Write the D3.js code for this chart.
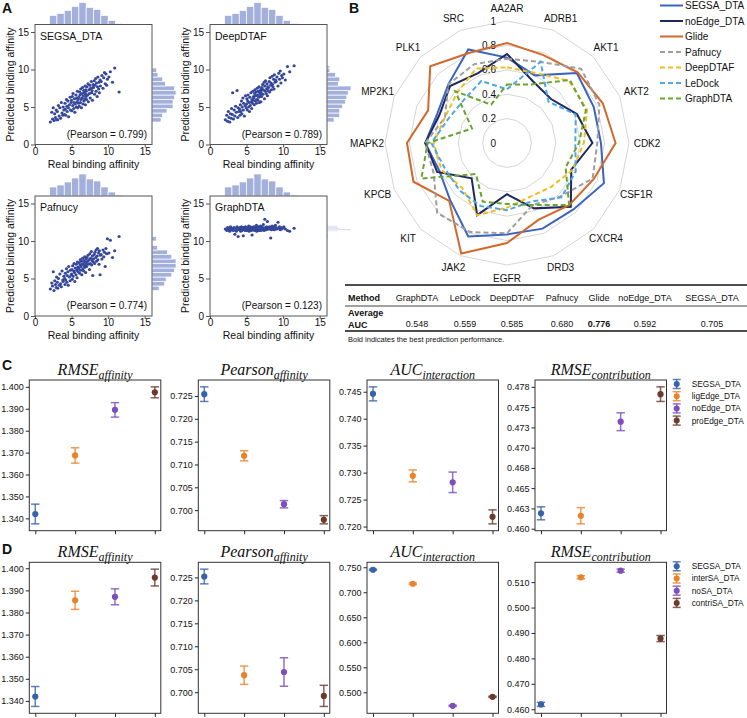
<!DOCTYPE html>
<html>
<head>
<meta charset="utf-8">
<script src="https://cdn.jsdelivr.net/npm/d3@7"></script>
<style>
body { margin: 0; background: #fff; }
svg text { font-family: "Liberation Sans", Arial, sans-serif; fill: #111; }
</style>
</head>
<body>
<svg id="fig" width="747" height="718"></svg>
<script>
// ---------- Panel A data ----------
var realAffinity = [
  2.1,2.3,2.4,2.5,2.6,2.7,2.8,2.9,2.95,
  3.05,3.1,3.2,3.3,3.4,3.5,3.6,3.7,3.8,3.85,3.95,
  4.05,4.1,4.15,4.2,4.3,4.35,4.4,4.5,4.55,4.6,4.7,4.8,4.85,4.95,
  5.0,5.05,5.1,5.15,5.2,5.3,5.35,5.4,5.45,5.5,5.6,5.65,5.7,5.75,5.8,5.85,5.9,5.95,
  6.0,6.05,6.1,6.15,6.2,6.25,6.3,6.35,6.4,6.45,6.5,6.55,6.6,6.65,6.7,6.75,6.8,6.85,6.9,6.92,6.95,6.98,
  7.0,7.05,7.1,7.2,7.25,7.3,7.4,7.45,7.5,7.55,7.6,7.7,7.75,7.8,7.85,7.9,7.95,
  8.0,8.1,8.15,8.2,8.3,8.35,8.4,8.5,8.55,8.6,8.7,8.75,8.8,8.9,8.95,
  9.05,9.15,9.3,9.4,9.5,9.6,9.7,9.8,9.9,
  10.1,10.3,10.6,10.9,
  11.5];
var predSEGSA = [
  3.0,4.3,3.4,4.9,3.2,4.1,3.6,4.6,3.3,
  4.4,3.3,5.2,3.8,4.9,3.5,5.6,4.2,3.9,5.0,4.6,
  4.0,5.5,4.7,3.9,6.0,5.1,4.4,5.8,4.9,3.7,5.3,6.3,4.6,5.6,
  5.9,4.5,6.4,5.2,6.8,4.8,5.6,6.1,4.3,5.4,6.6,5.0,6.2,5.7,7.1,4.9,6.0,5.5,
  6.3,5.1,7.0,6.6,5.6,7.4,6.0,4.9,6.8,6.2,7.6,5.4,6.5,7.2,5.8,6.9,6.1,7.8,5.3,6.7,7.3,6.4,
  7.1,6.0,7.7,6.6,8.1,5.7,7.3,6.8,7.9,6.2,7.5,8.4,6.9,7.2,5.9,7.6,8.0,
  7.6,8.5,6.7,7.9,8.8,7.1,8.2,6.4,7.7,9.0,7.4,8.3,6.9,8.6,7.8,
  8.4,9.2,7.5,8.9,9.6,8.1,9.4,7.9,8.7,
  9.0,9.7,8.3,10.2,
  7.0];
var predDeepDTAF = [
  3.3,3.9,3.1,4.4,3.6,3.0,4.1,3.5,4.8,
  4.0,6.9,3.4,4.6,3.8,5.1,4.3,7.2,3.6,4.9,4.4,
  4.7,3.9,5.3,4.4,5.8,4.1,5.0,6.2,4.6,5.5,3.8,5.2,6.5,4.9,
  5.4,6.1,4.6,5.8,6.6,5.0,5.6,4.4,6.3,5.2,6.9,5.7,4.8,6.0,5.5,7.1,5.9,6.4,
  6.2,5.3,6.8,7.3,5.8,6.5,7.0,5.5,6.0,7.5,6.6,5.9,7.1,6.3,7.7,5.6,6.9,6.4,7.2,6.7,5.7,7.4,
  7.0,6.4,7.6,8.0,6.7,7.3,8.3,6.1,7.8,7.1,8.5,6.8,7.4,8.1,6.5,7.7,7.2,
  7.6,8.4,7.0,8.9,7.9,8.2,7.3,9.1,8.0,7.7,8.7,7.4,9.3,8.3,8.6,
  8.4,9.0,7.8,9.5,8.7,9.8,8.2,9.2,8.9,
  9.4,8.6,10.4,9.7,
  10.5];
var predPafnucy = [
  3.6,4.4,4.0,5.9,3.4,4.7,4.2,3.8,5.2,
  4.5,3.7,5.0,4.1,5.6,4.3,3.9,6.0,4.8,4.6,5.3,
  5.0,4.2,5.7,4.8,6.3,4.5,5.4,5.9,4.1,6.6,5.2,4.7,6.1,5.5,
  5.6,6.2,4.9,6.7,5.3,6.0,7.0,5.8,4.6,6.4,5.5,6.9,6.1,5.1,7.2,6.5,5.9,6.3,
  6.4,7.1,5.7,6.8,7.5,6.1,6.6,7.3,5.5,6.9,7.7,6.3,7.0,6.0,7.4,6.7,7.9,6.5,7.2,5.8,6.8,7.6,
  7.1,6.6,7.8,7.3,8.1,6.9,7.5,6.2,8.3,7.0,7.7,8.6,6.8,7.4,8.0,5.4,7.2,
  7.6,8.2,7.0,8.5,7.8,8.8,7.3,8.0,9.0,7.5,8.4,6.9,8.7,5.5,8.1,
  8.2,7.6,8.8,7.9,8.5,6.6,9.0,8.3,10.3,
  8.4,10.1,7.8,8.7,
  10.6];
var predGraphDTA = [
  11.6,11.4,11.8,11.5,11.7,11.3,11.9,11.5,11.6,
  11.7,11.5,11.4,11.8,10.9,11.6,11.3,11.9,11.5,10.6,11.7,
  11.5,11.8,11.6,11.3,11.9,11.4,11.7,11.5,10.7,11.8,11.6,11.4,11.9,11.6,
  11.7,11.4,11.8,11.5,11.6,12.0,11.3,11.7,11.5,11.9,11.6,11.4,11.8,10.8,11.6,11.7,11.5,11.9,
  11.6,11.8,11.4,11.7,11.9,11.5,11.6,12.1,11.3,11.7,11.8,11.5,11.6,11.9,11.4,11.7,11.8,11.5,12.0,11.6,11.7,11.4,
  11.7,11.9,11.5,11.8,11.6,12.2,11.4,11.7,12.9,11.6,11.8,11.5,11.9,11.7,12.6,11.6,11.8,
  11.8,11.6,11.9,11.7,10.4,11.8,11.5,12.0,11.7,11.6,11.9,11.8,11.5,11.7,12.1,
  11.8,11.6,12.5,11.7,11.9,11.5,11.8,11.6,11.7,
  11.9,11.6,11.4,11.3,
  11.7];
var scatterNames = ["SEGSA_DTA", "DeepDTAF", "Pafnucy", "GraphDTA"];
var pearsonVals = ["0.799", "0.789", "0.774", "0.123"];
var axisTicksA = [0, 5, 10, 15];

// ---------- Panel B data ----------
var targets = ["AA2AR","ADRB1","AKT1","AKT2","CDK2","CSF1R","CXCR4","DRD3","EGFR","JAK2","KIT","KPCB","MAPK2","MP2K1","PLK1","SRC"];
var aucSEGSA    = [0.70,0.60,0.81,0.77,0.77,0.86,0.77,0.76,0.75,0.83,0.66,0.60,0.67,0.62,0.68,0.83];
var aucNoEdge   = [0.73,0.55,0.51,0.62,0.70,0.57,0.74,0.58,0.42,0.64,0.41,0.62,0.67,0.60,0.66,0.62];
var aucGlide    = [0.82,0.78,0.82,0.85,0.89,0.77,0.72,0.68,0.82,0.98,0.67,0.83,0.82,0.70,0.89,0.80];
var aucPafnucy  = [0.69,0.72,0.86,0.82,0.74,0.76,0.62,0.55,0.74,0.79,0.81,0.65,0.67,0.55,0.68,0.70];
var aucDeepDTAF = [0.62,0.62,0.72,0.71,0.63,0.58,0.51,0.48,0.53,0.64,0.52,0.58,0.60,0.55,0.58,0.66];
var aucLeDock   = [0.44,0.72,0.48,0.61,0.56,0.61,0.63,0.52,0.55,0.56,0.55,0.55,0.62,0.52,0.50,0.55];
var aucGraphDTA = [0.48,0.52,0.73,0.70,0.59,0.52,0.72,0.55,0.50,0.52,0.36,0.76,0.65,0.31,0.60,0.34];
var radarMethods = ["SEGSA_DTA","noEdge_DTA","Glide","Pafnucy","DeepDTAF","LeDock","GraphDTA"];
var radarTicks = [0, 0.2, 0.4, 0.6, 0.8, 1];
var tableMethods = ["GraphDTA","LeDock","DeepDTAF","Pafnucy","Glide","noEdge_DTA","SEGSA_DTA"];
var tableAUC = ["0.548","0.559","0.585","0.680","0.776","0.592","0.705"];

// ---------- Panels C / D data ----------
var variantsC = ["SEGSA_DTA","ligEdge_DTA","noEdge_DTA","proEdge_DTA"];
var variantsD = ["SEGSA_DTA","interSA_DTA","noSA_DTA","contriSA_DTA"];
var metricTitles = [["RMSE","affinity"],["Pearson","affinity"],["AUC","interaction"],["RMSE","contribution"]];
var meanC = [[1.3420,1.3687,1.3895,1.3975],[0.7254,0.7119,0.7013,0.6979],[0.7446,0.7294,0.7282,0.7218],[0.4619,0.4616,0.4732,0.4766]];
var errC  = [[0.0045,0.0035,0.0033,0.0025],[0.0016,0.0011,0.0008,0.0009],[0.0013,0.0011,0.0019,0.0013],[0.0008,0.0010,0.0011,0.0009]];
var meanD = [[1.3420,1.3855,1.3871,1.3958],[0.7252,0.7037,0.7044,0.6992],[0.7450,0.7170,0.4730,0.4910],[0.4619,0.5119,0.5145,0.4878]];
var errD  = [[0.0045,0.0041,0.0036,0.0038],[0.0016,0.0020,0.0031,0.0023],[0.0012,0.0015,0.0012,0.0012],[0.0008,0.0006,0.0006,0.0012]];
var ticksC = [[1.34,1.35,1.36,1.37,1.38,1.39,1.40],[0.700,0.705,0.710,0.715,0.720,0.725],[0.720,0.725,0.730,0.735,0.740,0.745],[0.4600,0.4625,0.4650,0.4675,0.4700,0.4725,0.4750,0.4775]];
var tickLabelsC4 = ["0.460","0.463","0.465","0.468","0.470","0.473","0.475","0.478"];
var ticksD = [[1.34,1.35,1.36,1.37,1.38,1.39,1.40],[0.700,0.705,0.710,0.715,0.720,0.725],[0.50,0.55,0.60,0.65,0.70,0.75],[0.46,0.47,0.48,0.49,0.50,0.51]];

var svg = d3.select("#fig");

// panel letters
[["A",2,13],["B",349,13],["C",2,370],["D",2,554]].forEach(function(p){
  svg.append("text").attr("x", p[1]).attr("y", p[2])
    .style("font-size","14px").style("font-weight","bold").text(p[0]);
});

// ================= Panel A =================
var posA = [[35,24.5],[210,24.5],[35,196],[210,196]];
var boxW = 117, boxH = 120;
var scatterPreds = [predSEGSA, predDeepDTAF, predPafnucy, predGraphDTA];
var binStep = [0.6, 0.6, 0.6, 0.15];
var xA = d3.scaleLinear().domain([0,16]).range([0,boxW]);
var yA = d3.scaleLinear().domain([0,16]).range([boxH,0]);
var topBins = d3.bin().domain([2,12]).thresholds(d3.range(3,12))(realAffinity);
var topH = d3.scaleLinear().domain([0, d3.max(topBins, b => b.length)]).range([0,22]);
var histFill = "#a4b0dc";

scatterNames.forEach(function(name, k){
  var g = svg.append("g").attr("transform", `translate(${posA[k][0]},${posA[k][1]})`);
  var preds = scatterPreds[k];

  // top marginal histogram
  g.selectAll(".topbar").data(topBins).enter().append("rect")
    .attr("x", b => xA(b.x0)).attr("width", b => xA(b.x1) - xA(b.x0))
    .attr("y", b => -topH(b.length)).attr("height", b => topH(b.length))
    .attr("fill", histFill).attr("stroke", "#fff").attr("stroke-width", 0.7);

  // right marginal histogram
  var ext = d3.extent(preds);
  var rBins = d3.bin().domain([ext[0], ext[1] + 1e-6])
    .thresholds(d3.range(ext[0] + binStep[k], ext[1], binStep[k]))(preds);
  var rW = d3.scaleLinear().domain([0, d3.max(rBins, b => b.length)]).range([0,24]);
  g.selectAll(".rbar").data(rBins).enter().append("rect")
    .attr("x", boxW).attr("width", b => rW(b.length))
    .attr("y", b => yA(b.x1)).attr("height", b => Math.max(0, yA(b.x0) - yA(b.x1)))
    .attr("fill", histFill).attr("stroke", "#fff").attr("stroke-width", 0.7);

  g.append("rect").attr("width", boxW).attr("height", boxH)
    .attr("fill", "#fff").attr("stroke", "#555").attr("stroke-width", 1);

  // points
  g.selectAll("circle").data(realAffinity).enter().append("circle")
    .attr("cx", d => xA(d)).attr("cy", (d,i) => yA(preds[i]))
    .attr("r", 1.6).attr("fill", "#34479b");

  var leftAxis = g.append("g").call(d3.axisLeft(yA).tickValues(axisTicksA).tickSize(4).tickPadding(2));
  var bottomAxis = g.append("g").attr("transform", `translate(0,${boxH})`)
    .call(d3.axisBottom(xA).tickValues(axisTicksA).tickSize(3).tickPadding(0));
  [leftAxis, bottomAxis].forEach(function(a){
    a.select(".domain").remove();
    a.selectAll("line").attr("stroke", "#555");
    a.selectAll("text").style("font-size","10px").style("font-family","'Liberation Sans', Arial, sans-serif").attr("fill","#222");
  });

  g.append("text").attr("x", 5).attr("y", 15).style("font-size","10.5px").text(name);
  g.append("text").attr("x", boxW - 5).attr("y", boxH - 7).attr("text-anchor","end")
    .style("font-size","10px").text("(Pearson = " + pearsonVals[k] + ")");
  g.append("text").attr("transform", `translate(-21,${boxH/2}) rotate(-90)`)
    .attr("text-anchor","middle").style("font-size","10.5px").text("Predicted binding affinity");
  g.append("text").attr("x", boxW/2).attr("y", boxH + 23).attr("text-anchor","middle")
    .style("font-size","10.5px").text("Real binding affinity");
});

// ================= Panel B =================
var cx = 507, cy = 143;
var rScale = d3.scaleLinear().domain([0,1]).range([0,122]);
var step = 2 * Math.PI / targets.length;
var radar = svg.append("g").attr("transform", `translate(${cx},${cy})`);
var ringLine = d3.lineRadial().angle((d,i) => i * step).radius(d => rScale(d)).curve(d3.curveLinearClosed);

radarTicks.slice(1).forEach(function(t){
  radar.append("path").attr("d", ringLine(targets.map(() => t)))
    .attr("fill","none").attr("stroke","#d6d6d6").attr("stroke-width",1);
});
radarTicks.forEach(function(t){
  radar.append("text").attr("x", -11).attr("y", -rScale(t)).attr("dy","0.35em")
    .attr("text-anchor","end").style("font-size","10px").text(t === 0 || t === 1 ? t : t.toFixed(1));
});
targets.forEach(function(name, i){
  var a = i * step;
  radar.append("text").attr("x", 140 * Math.sin(a)).attr("y", -135 * Math.cos(a)).attr("dy","0.35em")
    .attr("text-anchor","middle").style("font-size","10px").text(name);
});

var radarSeries = [aucSEGSA, aucNoEdge, aucGlide, aucPafnucy, aucDeepDTAF, aucLeDock, aucGraphDTA];
var radarColors = ["#3a63c4","#1e2a5e","#d2692a","#9e9e9e","#f0be1e","#4fa6e6","#6aa332"];
var radarDash = [null, null, null, "5,3", "5,3", "5,3", "5,3"];
radarSeries.forEach(function(vals, k){
  radar.append("path").attr("d", ringLine(vals))
    .attr("fill","none").attr("stroke", radarColors[k]).attr("stroke-width", 2)
    .attr("stroke-dasharray", radarDash[k]).attr("stroke-linejoin","miter");
});

// radar legend
var legB = svg.append("g").attr("transform","translate(660,5.5)");
radarMethods.forEach(function(m, k){
  var row = legB.append("g").attr("transform", `translate(0,${k*15.5})`);
  row.append("line").attr("x1",0).attr("x2",23).attr("stroke", radarColors[k])
    .attr("stroke-width",2).attr("stroke-dasharray", radarDash[k]);
  row.append("text").attr("x",25).attr("dy","0.35em").style("font-size","10px").text(m);
});

// table
var colX = [417,465,512,562,599,645,712];
svg.append("line").attr("x1",345).attr("x2",747).attr("y1",285).attr("y2",285).attr("stroke","#111").attr("stroke-width",1.6);
svg.append("line").attr("x1",345).attr("x2",747).attr("y1",306).attr("y2",306).attr("stroke","#111").attr("stroke-width",0.8);
svg.append("line").attr("x1",345).attr("x2",747).attr("y1",331).attr("y2",331).attr("stroke","#111").attr("stroke-width",1.6);
svg.append("text").attr("x",348).attr("y",300.5).style("font-size","9px").style("font-weight","bold").text("Method");
svg.append("text").attr("x",348).attr("y",316).style("font-size","9px").style("font-weight","bold").text("Average");
svg.append("text").attr("x",348).attr("y",328).style("font-size","9px").style("font-weight","bold").text("AUC");
tableMethods.forEach(function(m, k){
  svg.append("text").attr("x", colX[k]).attr("y",300.5).attr("text-anchor","middle").style("font-size","9px").text(m);
  svg.append("text").attr("x", colX[k]).attr("y",326.5).attr("text-anchor","middle").style("font-size","9px")
    .style("font-weight", m === "Glide" ? "bold" : "normal").text(tableAUC[k]);
});
svg.append("text").attr("x",348).attr("y",342).style("font-size","7.5px").text("Bold indicates the best prediction performance.");

// ================= Panels C and D =================
var boxLeft = [29.3, 198.3, 367, 535];
var bw = 131.5;
var ebColors = ["#3562a8","#e8832a","#7c4dbb","#6b3b2d"];
var xE = d3.scaleLinear().domain([-0.15, 3.15]).range([0, bw]);

function yDomain(m, e){
  var lo = d3.min(m, (v,i) => v - e[i]), hi = d3.max(m, (v,i) => v + e[i]);
  var pad = (hi - lo) * 0.05;
  return [lo - pad, hi + pad];
}

function drawRow(top, h, means, errs, ticks, variants, isC){
  metricTitles.forEach(function(tt, j){
    var g = svg.append("g").attr("transform", `translate(${boxLeft[j]},${top})`);
    var y = d3.scaleLinear().domain(yDomain(means[j], errs[j])).range([h, 0]);
    var fmt = (isC && j === 3) ? ((d,i) => tickLabelsC4[i]) : d3.format(".3f");
    var ya = g.append("g").call(d3.axisLeft(y).tickValues(ticks[j]).tickFormat(fmt).tickSize(3.5).tickPadding(2));
    var xa = g.append("g").attr("transform", `translate(0,${h})`)
      .call(d3.axisBottom(xE).tickValues([0,1,2,3]).tickFormat("").tickSize(3.5));
    [ya, xa].forEach(function(a){
      a.select(".domain").remove();
      a.selectAll("line").attr("stroke","#222");
      a.selectAll("text").style("font-size","9px").style("font-family","'Liberation Sans', Arial, sans-serif").attr("fill","#222");
    });
    g.append("rect").attr("width", bw).attr("height", h).attr("fill","none").attr("stroke","#333").attr("stroke-width",1);

    means[j].forEach(function(m, i){
      var x = xE(i), y1 = y(m - errs[j][i]), y2 = y(m + errs[j][i]);
      var eb = g.append("g").attr("stroke", ebColors[i]).attr("stroke-width",1.5).attr("stroke-opacity",0.8);
      eb.append("line").attr("x1",x).attr("x2",x).attr("y1",y1).attr("y2",y2);
      eb.append("line").attr("x1",x-4.2).attr("x2",x+4.2).attr("y1",y1).attr("y2",y1);
      eb.append("line").attr("x1",x-4.2).attr("x2",x+4.2).attr("y1",y2).attr("y2",y2);
      g.append("circle").attr("cx",x).attr("cy",y(m)).attr("r",3.1).attr("fill",ebColors[i]);
    });

    var title = g.append("text").attr("x", bw/2).attr("y", -5).attr("text-anchor","middle")
      .style("font-family","'Liberation Serif', 'Times New Roman', serif").style("font-style","italic");
    title.append("tspan").style("font-size","16px").text(tt[0]);
    title.append("tspan").attr("dy",3.5).style("font-size","12px").text(tt[1]);
  });

  var leg = svg.append("g").attr("transform", `translate(676.7,${top + 4})`);
  variants.forEach(function(v, i){
    var r = leg.append("g").attr("transform", `translate(0,${i*12.2})`);
    var eb = r.append("g").attr("stroke", ebColors[i]).attr("stroke-width",1.5).attr("stroke-opacity",0.8);
    eb.append("line").attr("y1",-4.5).attr("y2",4.5);
    eb.append("line").attr("x1",-4).attr("x2",4).attr("y1",-4.5).attr("y2",-4.5);
    eb.append("line").attr("x1",-4).attr("x2",4).attr("y1",4.5).attr("y2",4.5);
    r.append("circle").attr("r",3).attr("fill",ebColors[i]);
    r.append("text").attr("x",15).attr("dy","0.35em").style("font-size","8.3px").text(v);
  });
}

drawRow(380, 150.7, meanC, errC, ticksC, variantsC, true);
drawRow(562.3, 151, meanD, errD, ticksD, variantsD, false);
</script>
</body>
</html>
